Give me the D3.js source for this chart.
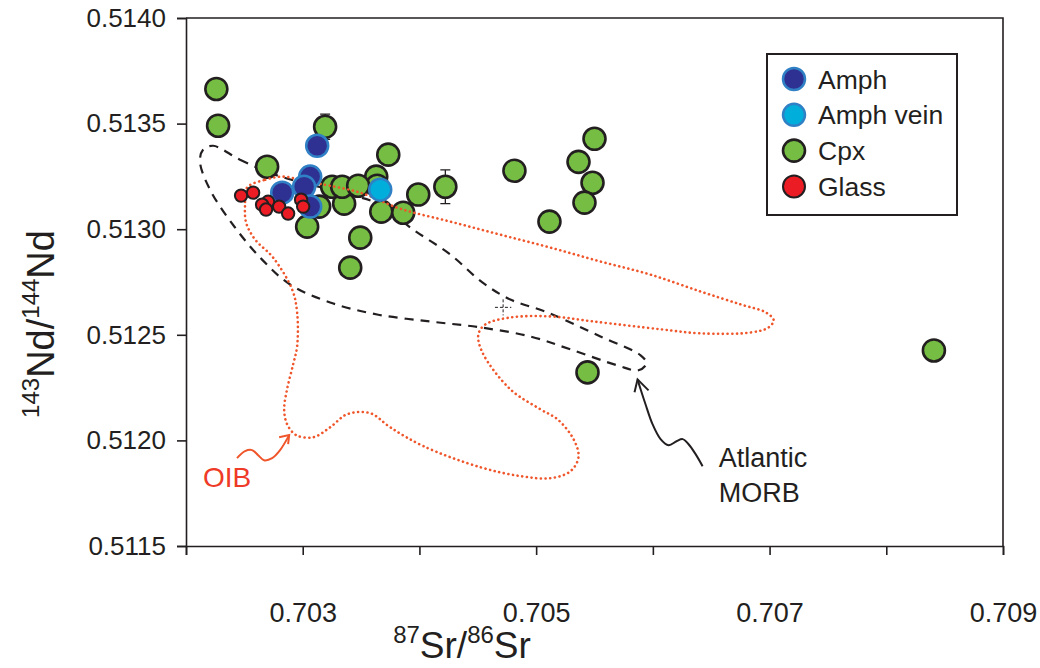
<!DOCTYPE html>
<html><head><meta charset="utf-8">
<script src="https://cdn.jsdelivr.net/npm/d3@7"></script>
<style>body{margin:0;background:#fff}svg{display:block}text{font-family:Arial,"Liberation Sans",Helvetica,sans-serif;fill:#231f20}</style>
</head><body><svg id="c" width="1040" height="668"></svg>
<script>
// ---- data (87Sr/86Sr, 143Nd/144Nd) ----
const cpxSr = [0.70226,0.702275,0.703192,0.703733,0.702695,0.704222,0.70399,0.703673,0.703861,0.703355,0.703038,0.703493,0.70363,0.703638,0.703252,0.703338,0.703475,0.703141,0.703407,0.704814,0.705114,0.7055,0.705363,0.705483,0.705414,0.70544,0.708408];
const cpxNd = [0.513664,0.51349,0.513485,0.513353,0.513296,0.513201,0.513164,0.513083,0.513078,0.513121,0.513012,0.51296,0.513249,0.513206,0.513201,0.513201,0.513206,0.513107,0.512818,0.513277,0.513036,0.513428,0.513319,0.51322,0.513126,0.512322,0.512426];
const amphSr = [0.703124,0.703064,0.703012,0.702824,0.703064];
const amphNd = [0.513395,0.513249,0.513201,0.513173,0.513107];
const veinSr = [0.703664];
const veinNd = [0.513187];
const glassSr = [0.702472,0.702575,0.702703,0.702652,0.702686,0.702798,0.702875,0.702986,0.703004];
const glassNd = [0.513159,0.513173,0.51313,0.513116,0.513093,0.513107,0.513074,0.51314,0.513107];
// error bars on two Cpx analyses (index into cpx arrays, +/- Nd)
const errIndex = [2,5];
const errNd = [0.00006,0.00008];
// 2-sigma cross
const crossSr = [0.704717], crossNd = [0.51263], crossDSr = 0.00007, crossDNd = 0.000038;
// Atlantic MORB field outline
const morbSr = [0.702232,0.702463,0.702763,0.703064,0.703407,0.703664,0.703947,0.704265,0.704539,0.704779,0.705097,0.705551,0.705895,0.705946,0.705877,0.705697,0.705294,0.704951,0.704522,0.704093,0.703638,0.703235,0.702892,0.702652,0.70242,0.702206,0.70212,0.702146];
const morbNd = [0.513395,0.513329,0.513258,0.513211,0.513164,0.513116,0.512998,0.51288,0.512748,0.512667,0.512606,0.512492,0.512403,0.512365,0.512332,0.512355,0.512431,0.512492,0.512535,0.512563,0.512596,0.512653,0.512738,0.512856,0.513008,0.513187,0.513319,0.513376];
// OIB field outline
const oibSr = [0.702523,0.702678,0.702832,0.702978,0.70315,0.703493,0.703836,0.704265,0.704694,0.705122,0.705551,0.70598,0.706409,0.706752,0.706967,0.707035,0.706992,0.706838,0.706409,0.706066,0.705491,0.705122,0.704779,0.704565,0.704505,0.704539,0.704779,0.705037,0.705183,0.70532,0.705363,0.705294,0.705122,0.704865,0.704522,0.704033,0.70375,0.703578,0.703381,0.703235,0.703089,0.702944,0.702866,0.702841,0.702866,0.702918,0.702952,0.702952,0.702909,0.702746,0.702592,0.702515,0.702506];
const oibNd = [0.513197,0.513234,0.513249,0.513234,0.513215,0.513173,0.513097,0.513036,0.512974,0.512913,0.512847,0.512785,0.512705,0.512644,0.512606,0.51257,0.512535,0.512511,0.512507,0.512526,0.512563,0.512587,0.512582,0.512549,0.512502,0.512417,0.512242,0.512147,0.5121,0.512006,0.511921,0.511854,0.511821,0.511831,0.511873,0.511973,0.512062,0.512129,0.512124,0.512062,0.512015,0.512025,0.512077,0.512147,0.512242,0.51236,0.512445,0.512606,0.512715,0.512866,0.512951,0.513031,0.513116];
// annotation arrows
const oibArrowSr = [0.702437,0.702506,0.702566,0.702618,0.702669,0.702738,0.702806,0.702884];
const oibArrowNd = [0.511916,0.511949,0.511954,0.51193,0.511906,0.511916,0.511954,0.512025];
const oibHeadSr = [0.702798,0.702884,0.702875];
const oibHeadNd = [0.512015,0.512025,0.511982];
const morbArrowSr = [0.706426,0.706366,0.706306,0.706255,0.706203,0.706135,0.706066,0.705997,0.705937,0.705895,0.705869];
const morbArrowNd = [0.511878,0.511935,0.511982,0.512006,0.511996,0.511977,0.512006,0.512077,0.512171,0.512242,0.512289];
const morbHeadSr = [0.705843,0.705869,0.705963];
const morbHeadNd = [0.512228,0.512289,0.512237];
const labelOIB = {sr:0.702146, nd:0.511779, text:"OIB"};
const labelMORB = [{sr:0.706564, nd:0.511873, text:"Atlantic"},{sr:0.706564, nd:0.511708, text:"MORB"}];
// ticks
const xTicks = [0.702,0.703,0.704,0.705,0.706,0.707,0.708,0.709];
const xTickLabels = ["","0.703","","0.705","","0.707","","0.709"];
const yTicks = [0.5115,0.512,0.5125,0.513,0.5135,0.514];
const yTickLabels = ["0.5115","0.5120","0.5125","0.5130","0.5135","0.5140"];
const legendNames = ["Amph","Amph vein","Cpx","Glass"];

// ---- drawing ----
const svg = d3.select("#c");
const L=186, R=1003, T=18, B=546;
const x = d3.scaleLinear().domain([0.702,0.709]).range([L,R]);
const y = d3.scaleLinear().domain([0.5115,0.5140]).range([B,T]);
const ink = "#231f20";
const styles = {
  "Amph":{fill:"#2e3192",stroke:"#2f80c4",r:11,sw:2.5},
  "Amph vein":{fill:"#00aedb",stroke:"#2f80c4",r:11,sw:2.5},
  "Cpx":{fill:"#76bd43",stroke:ink,r:11,sw:2.6},
  "Glass":{fill:"#ec1c24",stroke:ink,r:6.2,sw:2}
};
const zip = (a,b)=>a.map((v,i)=>[v,b[i]]);

// axes
const xAxis = d3.axisBottom(x).tickValues(xTicks).tickSize(9).tickFormat((d,i)=>xTickLabels[i]);
const gx = svg.append("g").attr("transform",`translate(0,${B})`).call(xAxis);
gx.select(".domain").attr("stroke",ink).attr("stroke-width",1.6);
gx.selectAll(".tick line").attr("stroke",ink).attr("stroke-width",1.6);
gx.selectAll(".tick text").attr("font-size",27).attr("y",76).attr("dy",0).attr("fill",ink);
const yAxis = d3.axisLeft(y).tickValues(yTicks).tickSize(9).tickFormat((d,i)=>yTickLabels[i]);
const gy = svg.append("g").attr("transform",`translate(${L},0)`).call(yAxis);
gy.select(".domain").attr("stroke",ink).attr("stroke-width",1.6);
gy.selectAll(".tick line").attr("stroke",ink).attr("stroke-width",1.6);
gy.selectAll(".tick text").attr("font-size",26).attr("x",-20).attr("fill",ink);
svg.selectAll(".tick text").style("font-family","Arial,'Liberation Sans',sans-serif");
// box top/right
svg.append("path").attr("d",`M${L},${T}H${R}V${B}`).attr("fill","none").attr("stroke",ink).attr("stroke-width",1.6);

// titles
const xt = svg.append("text").attr("x",462).attr("y",658).attr("text-anchor","middle").attr("font-size",37);
xt.append("tspan").attr("font-size",24).attr("dy",-15).text("87");
xt.append("tspan").attr("dy",15).text("Sr/");
xt.append("tspan").attr("font-size",24).attr("dy",-15).text("86");
xt.append("tspan").attr("dy",15).text("Sr");
const yt = svg.append("text").attr("transform","translate(54,324) rotate(-90)").attr("text-anchor","middle").attr("font-size",38);
yt.append("tspan").attr("font-size",24).attr("dy",-15).text("143");
yt.append("tspan").attr("dy",15).text("Nd/");
yt.append("tspan").attr("font-size",24).attr("dy",-15).text("144");
yt.append("tspan").attr("dy",15).text("Nd");

const line = d3.line().x(d=>x(d[0])).y(d=>y(d[1]));
const closed = d3.line().x(d=>x(d[0])).y(d=>y(d[1])).curve(d3.curveCatmullRomClosed.alpha(0.5));
const open = d3.line().x(d=>x(d[0])).y(d=>y(d[1])).curve(d3.curveCatmullRom.alpha(0.5));

// MORB field (dashed)
svg.append("path").attr("d",closed(zip(morbSr,morbNd))).attr("fill","none").attr("stroke",ink).attr("stroke-width",2.2).attr("stroke-dasharray","9,7");

// error bars
errIndex.forEach((k,i)=>{
  const cx=x(cpxSr[k]), y1=y(cpxNd[k]+errNd[i]), y2=y(cpxNd[k]-errNd[i]);
  svg.append("path").attr("d",`M${cx},${y1}V${y2}M${cx-5},${y1}H${cx+5}M${cx-5},${y2}H${cx+5}`).attr("stroke",ink).attr("stroke-width",1.3).attr("fill","none");
});
// cross
crossSr.forEach((s,i)=>{
  svg.append("path").attr("d",`M${x(s-crossDSr)},${y(crossNd[i])}H${x(s+crossDSr)}M${x(s)},${y(crossNd[i]+crossDNd)}V${y(crossNd[i]-crossDNd)}`).attr("stroke",ink).attr("stroke-width",1).attr("stroke-dasharray","3,2").attr("fill","none");
});

function pts(sr,nd,name){
  const s=styles[name];
  svg.append("g").selectAll("circle").data(zip(sr,nd)).join("circle")
    .attr("cx",d=>x(d[0])).attr("cy",d=>y(d[1])).attr("r",s.r)
    .attr("fill",s.fill).attr("stroke",s.stroke).attr("stroke-width",s.sw);
}
pts(cpxSr,cpxNd,"Cpx");
// OIB field (dotted)
const oibCol="#f0562b";
svg.append("path").attr("d",closed(zip(oibSr,oibNd))).attr("fill","none").attr("stroke",oibCol).attr("stroke-width",2.6).attr("stroke-linecap","round").attr("stroke-dasharray","0.1,4.6");
pts(veinSr,veinNd,"Amph vein");
pts(amphSr,amphNd,"Amph");
pts(glassSr,glassNd,"Glass");

// annotation arrows
svg.append("path").attr("d",open(zip(oibArrowSr,oibArrowNd))).attr("fill","none").attr("stroke",oibCol).attr("stroke-width",2);
svg.append("path").attr("d",line(zip(oibHeadSr,oibHeadNd))).attr("fill","none").attr("stroke",oibCol).attr("stroke-width",2);
svg.append("path").attr("d",open(zip(morbArrowSr,morbArrowNd))).attr("fill","none").attr("stroke",ink).attr("stroke-width",2);
svg.append("path").attr("d",line(zip(morbHeadSr,morbHeadNd))).attr("fill","none").attr("stroke",ink).attr("stroke-width",2);
svg.append("text").attr("x",x(labelOIB.sr)).attr("y",y(labelOIB.nd)).attr("font-size",28).style("fill","#ee3a26").text(labelOIB.text);
labelMORB.forEach(l=>svg.append("text").attr("x",x(l.sr)).attr("y",y(l.nd)).attr("font-size",27).text(l.text));

// legend
const lg = svg.append("g");
lg.append("rect").attr("x",767).attr("y",54).attr("width",190).attr("height",161).attr("fill","#fff").attr("stroke",ink).attr("stroke-width",2);
legendNames.forEach((n,i)=>{
  const s=styles[n], cy=79+i*35.8;
  lg.append("circle").attr("cx",794).attr("cy",cy).attr("r",11).attr("fill",s.fill).attr("stroke",s.stroke).attr("stroke-width",s.sw);
  lg.append("text").attr("x",818).attr("y",cy).attr("dy","0.36em").attr("font-size",26.5).text(n);
});
</script></body></html>
